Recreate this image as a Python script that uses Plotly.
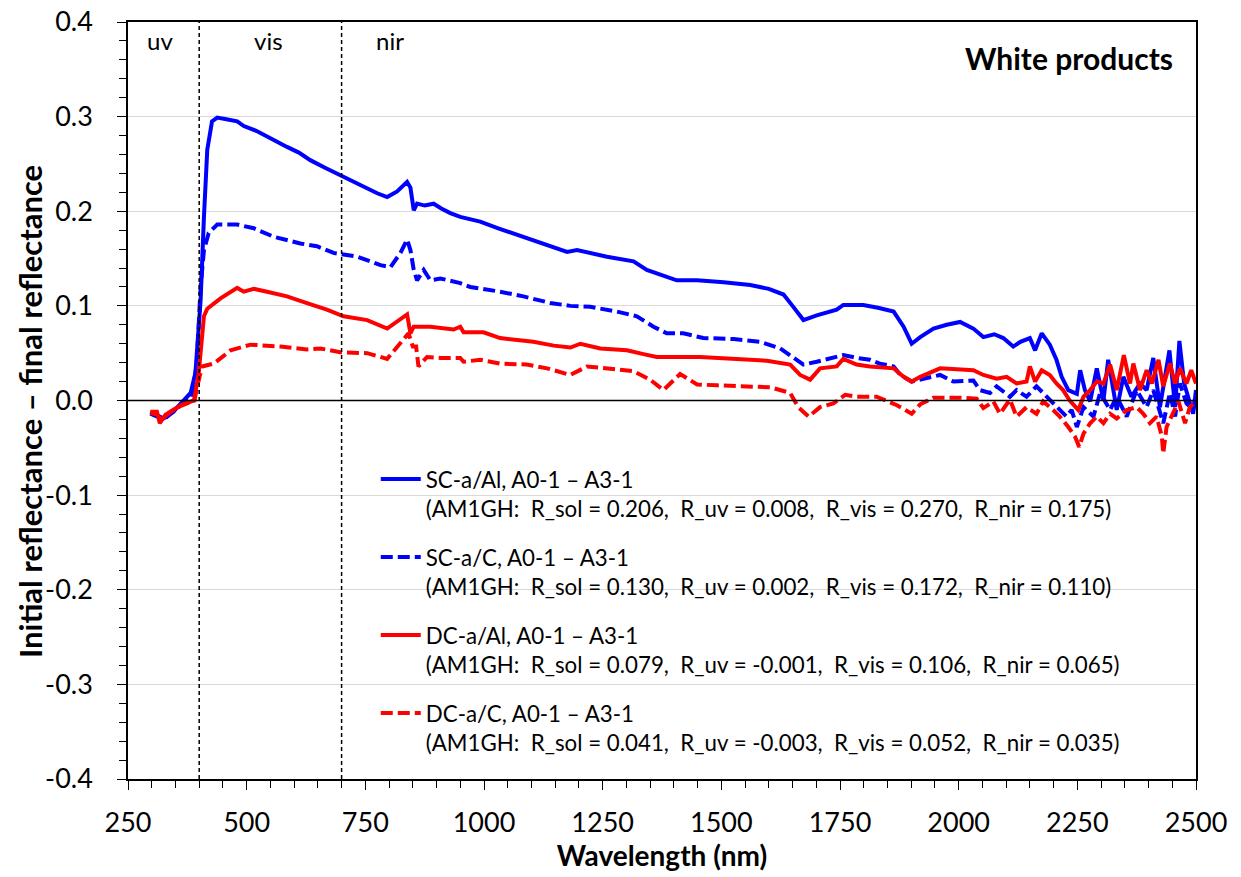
import plotly.graph_objects as go

# ---------------- data ----------------
sc_al_nm = [297, 311, 325, 345, 367, 382, 392, 403, 410, 417, 427, 438, 460, 480, 494, 520, 543, 565, 585, 610, 634, 665, 697, 725, 754, 775, 796, 817, 838, 845, 852, 859, 875, 894, 910, 929, 950,
            992, 1030, 1069, 1119, 1175, 1196, 1259, 1315, 1343, 1406, 1449, 1505, 1561, 1600, 1631, 1650, 1673, 1701, 1743, 1757, 1799, 1830, 1863, 1884, 1901, 1919, 1947, 1975, 2003, 2031,
            2052, 2075, 2094, 2115, 2130, 2150, 2161, 2175, 2192, 2206, 2217, 2231, 2249, 2256, 2266, 2277, 2291, 2305, 2315, 2333, 2347, 2364, 2382, 2396, 2410, 2424, 2444, 2456, 2465, 2475, 2494, 2500]
sc_al_val = [-0.012, -0.016, -0.019, -0.012, 0.0, 0.008, 0.029, 0.106, 0.194, 0.265, 0.295, 0.299, 0.297, 0.295, 0.290, 0.285, 0.279, 0.273, 0.268, 0.262, 0.254, 0.246, 0.238, 0.231, 0.224, 0.219, 0.215, 0.221, 0.231, 0.225, 0.201, 0.208, 0.206, 0.208, 0.203, 0.198, 0.194,
             0.189, 0.182, 0.175, 0.166, 0.157, 0.159, 0.152, 0.147, 0.138, 0.127, 0.127, 0.125, 0.122, 0.118, 0.112, 0.100, 0.085, 0.090, 0.096, 0.101, 0.101, 0.098, 0.094, 0.078, 0.060, 0.067, 0.076, 0.080, 0.083, 0.076,
             0.067, 0.070, 0.066, 0.057, 0.062, 0.066, 0.053, 0.071, 0.059, 0.043, 0.025, 0.011, 0.007, 0.032, 0.011, -0.001, 0.034, 0.000, 0.043, -0.010, 0.025, 0.004, 0.018, 0.011, 0.045, -0.007, 0.053, -0.007, 0.063, 0.018, -0.014, 0.011]

sc_c_nm = [297, 311, 325, 345, 367, 385, 395, 403, 410, 420, 438, 480, 515, 557, 613, 648, 683, 733, 782, 803, 824, 838, 845, 852, 859, 873, 887, 908, 950,
           971, 1034, 1083, 1140, 1182, 1224, 1280, 1322, 1357, 1385, 1420, 1462, 1526, 1582, 1624, 1645, 1673, 1701, 1729, 1757, 1785, 1813, 1834, 1863, 1877, 1901, 1926, 1961, 1989, 2031,
           2045, 2066, 2080, 2108, 2122, 2143, 2164, 2185, 2206, 2227, 2238, 2249, 2263, 2284, 2298, 2319, 2333, 2354, 2375, 2396, 2410, 2431, 2445, 2456, 2466, 2480, 2494, 2500]
sc_c_val = [-0.014, -0.017, -0.020, -0.012, -0.002, 0.004, 0.040, 0.120, 0.159, 0.177, 0.186, 0.186, 0.182, 0.173, 0.166, 0.163, 0.156, 0.152, 0.143, 0.141, 0.156, 0.170, 0.159, 0.138, 0.127, 0.138, 0.127, 0.129, 0.124,
            0.120, 0.115, 0.110, 0.103, 0.100, 0.099, 0.094, 0.089, 0.078, 0.071, 0.071, 0.066, 0.065, 0.062, 0.055, 0.048, 0.038, 0.041, 0.045, 0.048, 0.045, 0.043, 0.039, 0.036, 0.027, 0.020, 0.023, 0.027, 0.020, 0.021,
            0.011, 0.008, 0.015, 0.004, 0.011, 0.004, 0.015, 0.004, -0.007, -0.017, -0.010, -0.028, -0.007, -0.017, 0.008, -0.010, 0.004, -0.017, 0.011, -0.007, 0.011, -0.024, 0.008, -0.017, 0.018, -0.003, -0.010, 0.008]

dc_al_nm = [297, 311, 317, 329, 345, 361, 389, 399, 410, 417, 445, 480, 494, 515, 543, 585, 627, 669, 704, 754, 796, 831, 838, 845, 852, 887, 936, 950,
            957, 999, 1034, 1104, 1147, 1182, 1203, 1245, 1301, 1336, 1364, 1455, 1526, 1596, 1645, 1666, 1687, 1708, 1743, 1757, 1785, 1813, 1863, 1884, 1901, 1919, 1961, 2003, 2031,
            2052, 2080, 2101, 2122, 2143, 2150, 2161, 2175, 2192, 2206, 2220, 2234, 2252, 2263, 2277, 2291, 2305, 2319, 2333, 2348, 2361, 2368, 2382, 2396, 2407, 2421, 2431, 2445, 2456, 2466, 2480, 2490, 2500]
dc_al_val = [-0.012, -0.012, -0.024, -0.015, -0.010, -0.005, 0.000, 0.029, 0.089, 0.097, 0.108, 0.119, 0.115, 0.118, 0.115, 0.110, 0.103, 0.096, 0.089, 0.085, 0.076, 0.089, 0.091, 0.071, 0.078, 0.078, 0.075, 0.078,
             0.072, 0.072, 0.066, 0.062, 0.058, 0.056, 0.060, 0.055, 0.053, 0.049, 0.046, 0.046, 0.044, 0.042, 0.038, 0.027, 0.022, 0.034, 0.036, 0.044, 0.038, 0.036, 0.034, 0.025, 0.020, 0.025, 0.034, 0.033, 0.032,
             0.027, 0.023, 0.025, 0.018, 0.020, 0.036, 0.020, 0.032, 0.027, 0.018, 0.011, 0.000, -0.010, 0.004, 0.011, 0.020, 0.018, 0.038, 0.011, 0.048, 0.018, 0.039, 0.011, 0.032, 0.018, 0.043, 0.015, 0.039, 0.018, 0.034, 0.018, 0.032, 0.018]

dc_c_nm = [297, 311, 320, 340, 360, 390, 396, 406, 431, 466, 508, 571, 627, 655, 697, 754, 796, 831, 841, 850, 857, 862, 880, 908, 950,
           957, 992, 1034, 1090, 1133, 1182, 1217, 1280, 1315, 1350, 1378, 1413, 1449, 1491, 1561, 1603, 1645, 1662, 1684, 1708, 1736, 1761, 1785, 1827, 1870, 1901, 1919, 1947, 2003, 2038,
           2052, 2073, 2087, 2108, 2122, 2143, 2164, 2178, 2199, 2213, 2231, 2245, 2254, 2263, 2277, 2291, 2305, 2319, 2333, 2354, 2375, 2389, 2403, 2417, 2428, 2431, 2438, 2452, 2463, 2477, 2487, 2500]
dc_c_val = [-0.013, -0.015, -0.020, -0.012, -0.006, 0.000, 0.015, 0.036, 0.039, 0.053, 0.059, 0.057, 0.054, 0.055, 0.051, 0.050, 0.044, 0.064, 0.071, 0.057, 0.057, 0.036, 0.046, 0.045, 0.045,
            0.041, 0.043, 0.039, 0.038, 0.034, 0.027, 0.036, 0.033, 0.031, 0.022, 0.011, 0.028, 0.017, 0.016, 0.015, 0.014, 0.008, -0.007, -0.017, -0.007, -0.003, 0.006, 0.004, 0.004, -0.005, -0.014, -0.004, 0.003, 0.003, 0.002,
            -0.008, -0.001, -0.014, 0.001, -0.017, -0.007, -0.014, -0.001, -0.010, -0.017, -0.028, -0.038, -0.049, -0.035, -0.024, -0.017, -0.024, -0.014, -0.019, -0.010, -0.007, -0.014, -0.024, -0.017, -0.038, -0.056, -0.028, -0.014, -0.001, -0.024, -0.007, -0.001]

names = [
    "SC-a/Al, A0-1 \u2013 A3-1<br>(AM1GH:\u00a0\u00a0R_sol = 0.206,\u00a0\u00a0R_uv = 0.008,\u00a0\u00a0R_vis = 0.270,\u00a0\u00a0R_nir = 0.175)",
    "SC-a/C, A0-1 \u2013 A3-1<br>(AM1GH:\u00a0\u00a0R_sol = 0.130,\u00a0\u00a0R_uv = 0.002,\u00a0\u00a0R_vis = 0.172,\u00a0\u00a0R_nir = 0.110)",
    "DC-a/Al, A0-1 \u2013 A3-1<br>(AM1GH:\u00a0\u00a0R_sol = 0.079,\u00a0\u00a0R_uv = -0.001,\u00a0\u00a0R_vis = 0.106,\u00a0\u00a0R_nir = 0.065)",
    "DC-a/C, A0-1 \u2013 A3-1<br>(AM1GH:\u00a0\u00a0R_sol = 0.041,\u00a0\u00a0R_uv = -0.003,\u00a0\u00a0R_vis = 0.052,\u00a0\u00a0R_nir = 0.035)",
]

x_ticks = [250, 500, 750, 1000, 1250, 1500, 1750, 2000, 2250, 2500]
y_ticks = [-0.4, -0.3, -0.2, -0.1, 0.0, 0.1, 0.2, 0.3, 0.4]
y_ticktext = ["-0.4", "-0.3", "-0.2", "-0.1", "0.0", "0.1", "0.2", "0.3", "0.4"]
band_edges = [400, 700]
band_labels = ["uv", "vis", "nir"]
band_label_x = [318, 546, 803]

FONT = "Lato, 'Open Sans', sans-serif"

fig = go.Figure()

series = [
    (sc_al_nm, sc_al_val, "#0000ff", "solid"),
    (sc_c_nm, sc_c_val, "#0000ff", "12px,5px"),
    (dc_al_nm, dc_al_val, "#ff0000", "solid"),
    (dc_c_nm, dc_c_val, "#ff0000", "12px,5px"),
]
for i, (xs, ys, col, dash) in enumerate(series):
    fig.add_trace(go.Scatter(x=xs, y=ys, mode="lines", name=names[i], legendgroup=f"g{i}",
                             line=dict(color=col, width=4, dash=dash)))

# zero line
fig.add_hline(y=0, line=dict(color="black", width=1.5), layer="above")
# band boundaries
for xb in band_edges:
    fig.add_vline(x=xb, line=dict(color="black", width=1.5, dash="4px,3px"))
for lab, xl in zip(band_labels, band_label_x):
    fig.add_annotation(x=xl, y=0.38, text=lab, showarrow=False, xref="x", yref="y",
                       font=dict(family=FONT, size=24, color="black"))

fig.add_annotation(x=0.98, y=0.362, xref="paper", yref="y", text="<b>White products</b>", showarrow=False,
                   xanchor="right", font=dict(family=FONT, size=30, color="black"))

# y-axis title (placed as rotated text so that it sits where the reference has it)
fig.add_annotation(x=-0.0917, y=0.485, xref="paper", yref="paper", textangle=-90, showarrow=False,
                   xanchor="center", yanchor="middle",
                   text="<b>Initial reflectance \u2013 final reflectance</b>",
                   font=dict(family=FONT, size=31, color="black"))

fig.update_layout(
    width=1241, height=877,
    margin=dict(l=128, r=45, t=22, b=98),
    paper_bgcolor="white", plot_bgcolor="white",
    font=dict(family=FONT, color="black"),
    showlegend=True,
    legend=dict(x=0.232, y=0.424, xanchor="left", yanchor="top", bgcolor="rgba(0,0,0,0)",
                font=dict(family=FONT, size=22.3, color="black"), tracegroupgap=17, valign="top",
                itemwidth=40),
    xaxis=dict(range=[250, 2500], tickvals=x_ticks, showgrid=False, zeroline=False, automargin=False,
               showline=True, linecolor="black", linewidth=1.5, mirror=True,
               ticks="outside", ticklen=9, tickcolor="black", tickwidth=1.2, ticklabelstandoff=10,
               minor=dict(dtick=50, tick0=250, ticks="outside", ticklen=7, tickcolor="black", tickwidth=1.2),
               tickfont=dict(family=FONT, size=27, color="black"),
               title=dict(text="<b>Wavelength (nm)</b>", font=dict(family=FONT, size=28, color="black"), standoff=4)),
    yaxis=dict(range=[-0.4, 0.4], tickvals=y_ticks, ticktext=y_ticktext, showgrid=True, gridcolor="#d9d9d9", gridwidth=1,
               zeroline=False, showline=True, linecolor="black", linewidth=1.5, mirror=True, automargin=False,
               ticks="outside", ticklen=9, tickcolor="black", tickwidth=1.2, ticklabelstandoff=19,
               minor=dict(dtick=0.02, tick0=0, ticks="outside", ticklen=7, tickcolor="black", tickwidth=1.2, showgrid=False),
               tickfont=dict(family=FONT, size=27, color="black")),
)

fig.write_html("out.html")
